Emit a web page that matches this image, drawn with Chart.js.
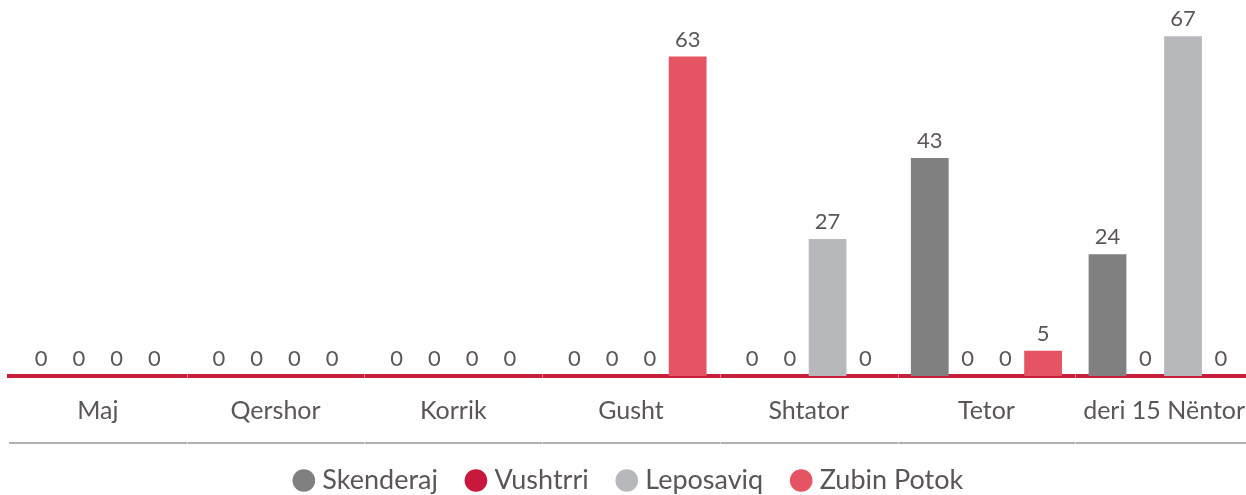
<!DOCTYPE html>
<html>
<head>
<meta charset="utf-8">
<script src="https://cdn.jsdelivr.net/npm/chart.js@4"></script>
<style>
html,body{margin:0;padding:0;background:#fff;overflow:hidden;}
#wrap{width:1253px;height:495px;position:relative;}
</style>
</head>
<body>
<div id="wrap"><canvas id="c"></canvas></div>
<script>
const categories = ["Maj","Qershor","Korrik","Gusht","Shtator","Tetor","deri 15 Nëntor"];
const skenderaj  = [0,0,0,0,0,43,24];
const vushtrri   = [0,0,0,0,0,0,0];
const leposaviq  = [0,0,0,0,27,0,67];
const zubinPotok = [0,0,0,63,0,5,0];
const seriesNames = ["Skenderaj","Vushtrri","Leposaviq","Zubin Potok"];
const seriesColors = ["#808080","#c8193c","#b7b8bc","#e55462"];

const FONT = "Lato, 'Open Sans', sans-serif";
const TEXT = "#5b5655";

const valueLabels = {
  id:'valueLabels',
  afterDatasetsDraw(chart){
    const ctx = chart.ctx;
    ctx.save();
    ctx.font = "22px " + FONT;
    ctx.fillStyle = TEXT;
    ctx.textAlign = 'center';
    ctx.textBaseline = 'bottom';
    chart.data.datasets.forEach((ds,i)=>{
      const meta = chart.getDatasetMeta(i);
      meta.data.forEach((el,j)=>{
        ctx.fillText(String(ds.data[j]), el.x, el.y - 6);
      });
    });
    ctx.restore();
  }
};
const bottomRule = {
  id:'bottomRule',
  afterDraw(chart){
    const ctx = chart.ctx, a = chart.chartArea, xs = chart.scales.x;
    const yRule = a.bottom + 67;
    ctx.save();
    ctx.strokeStyle = "#b0b0b0";
    ctx.lineWidth = 2;
    ctx.beginPath();
    ctx.moveTo(a.left, yRule);
    ctx.lineTo(a.right, yRule);
    ctx.stroke();
    const half = (xs.getPixelForValue(1) - xs.getPixelForValue(0)) / 2;
    ctx.lineWidth = 1;
    for (let i = 1; i < categories.length; i++) {
      const bx = Math.round(xs.getPixelForValue(i) - half) + 0.5;
      ctx.strokeStyle = "rgba(255,255,255,0.4)";
      ctx.beginPath(); ctx.moveTo(bx, a.bottom - 2); ctx.lineTo(bx, a.bottom + 2); ctx.stroke();
      ctx.strokeStyle = "rgba(255,255,255,0.6)";
      ctx.beginPath(); ctx.moveTo(bx, yRule - 1); ctx.lineTo(bx, yRule + 1); ctx.stroke();
    }
    ctx.restore();
  }
};

new Chart(document.getElementById('c'), {
  type:'bar',
  data:{
    labels: categories,
    datasets: [skenderaj, vushtrri, leposaviq, zubinPotok].map((d,i)=>({
      label: seriesNames[i],
      data: d,
      backgroundColor: seriesColors[i],
      borderWidth: 0,
      barPercentage: 1.0,
      categoryPercentage: 0.85
    }))
  },
  options:{
    responsive:true,
    maintainAspectRatio:false,
    animation:false,
    layout:{padding:{left:9,right:0,top:21,bottom:-9}},
    plugins:{
      tooltip:{enabled:false},
      legend:{
        position:'bottom',
        labels:{
          usePointStyle:true,
          pointStyle:'circle',
          boxHeight:16,
          boxWidth:10,
          padding:33,
          color:TEXT,
          font:{family:FONT,size:27}
        }
      }
    },
    scales:{
      x:{
        grid:{display:true,drawOnChartArea:false,drawTicks:false},
        border:{display:true,color:"#c81f3f",width:4},
        ticks:{color:TEXT,font:{family:FONT,size:25},padding:20},
        afterFit(scale){ scale.height = 58; scale.paddingLeft = 0; scale.paddingRight = 0; }
      },
      y:{
        display:false,
        min:0,max:70
      }
    }
  },
  plugins:[valueLabels,bottomRule]
});
</script>
</body>
</html>
